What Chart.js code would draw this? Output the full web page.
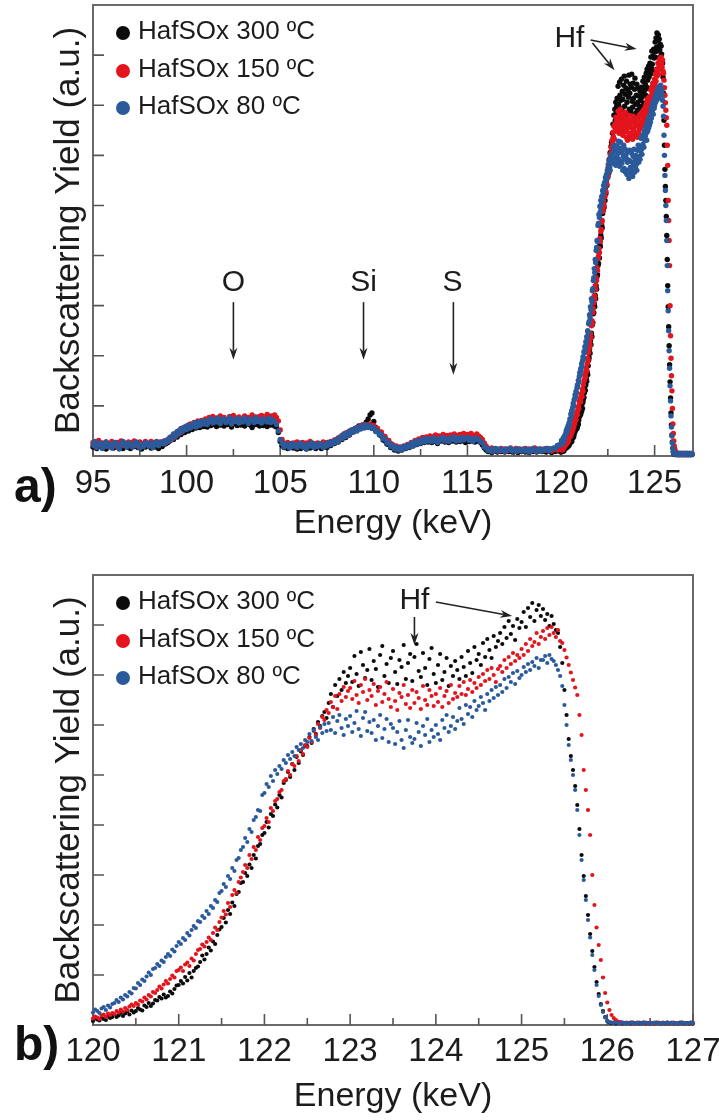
<!DOCTYPE html>
<html><head><meta charset="utf-8">
<script src="https://cdn.jsdelivr.net/npm/chart.js@4.4.1/dist/chart.umd.min.js"></script>
<style>html,body{margin:0;padding:0;background:#fff}#wrap{position:relative;width:719px;height:1120px;background:#fff}canvas{position:absolute;left:0}</style>
</head><body><div id="wrap"><canvas id="ca" width="719" height="560" style="top:0"></canvas><canvas id="cb" width="719" height="560" style="top:560px"></canvas></div>
<script>
// ---------- DATA ----------
const seriesLabels = ['HafSOx 300 ºC', 'HafSOx 150 ºC', 'HafSOx 80 ºC'];

const energyLow = [
95.0,95.1,95.2,95.3,95.4,95.5,95.6,95.7,95.8,95.9,
96.0,96.1,96.2,96.3,96.4,96.5,96.6,96.7,96.8,96.9,
97.0,97.1,97.2,97.3,97.4,97.5,97.6,97.7,97.8,97.9,
98.0,98.1,98.2,98.3,98.4,98.5,98.6,98.7,98.8,98.9,
99.0,99.1,99.2,99.3,99.4,99.5,99.6,99.7,99.8,99.9,
100.0,100.1,100.2,100.3,100.4,100.5,100.6,100.7,100.8,100.9,
101.0,101.1,101.2,101.3,101.4,101.5,101.6,101.7,101.8,101.9,
102.0,102.1,102.2,102.3,102.4,102.5,102.6,102.7,102.8,102.9,
103.0,103.1,103.2,103.3,103.4,103.5,103.6,103.7,103.8,103.9,
104.0,104.1,104.2,104.3,104.4,104.5,104.6,104.7,104.8,104.9,
105.0,105.1,105.2,105.3,105.4,105.5,105.6,105.7,105.8,105.9,
106.0,106.1,106.2,106.3,106.4,106.5,106.6,106.7,106.8,106.9,
107.0,107.1,107.2,107.3,107.4,107.5,107.6,107.7,107.8,107.9,
108.0,108.1,108.2,108.3,108.4,108.5,108.6,108.7,108.8,108.9,
109.0,109.1,109.2,109.3,109.4,109.5,109.6,109.7,109.8,109.9,
110.0,110.1,110.2,110.3,110.4,110.5,110.6,110.7,110.8,110.9,
111.0,111.1,111.2,111.3,111.4,111.5,111.6,111.7,111.8,111.9,
112.0,112.1,112.2,112.3,112.4,112.5,112.6,112.7,112.8,112.9,
113.0,113.1,113.2,113.3,113.4,113.5,113.6,113.7,113.8,113.9,
114.0,114.1,114.2,114.3,114.4,114.5,114.6,114.7,114.8,114.9,
115.0,115.1,115.2,115.3,115.4,115.5,115.6,115.7,115.8,115.9,
116.0,116.1,116.2,116.3,116.4,116.5,116.6,116.7,116.8,116.9,
117.0,117.1,117.2,117.3,117.4,117.5,117.6,117.7,117.8,117.9,
118.0,118.1,118.2,118.3,118.4,118.5,118.6,118.7,118.8,118.9,
119.0,119.1,119.2,119.3,119.4,119.5,119.6,119.7,119.8,119.9];

const lowBlack = [
0.18,0.22,0.15,0.20,0.24,0.17,0.21,0.14,0.19,0.23,
0.20,0.16,0.23,0.18,0.21,0.25,0.15,0.19,0.22,0.17,
0.15,0.21,0.19,0.24,0.17,0.20,0.14,0.22,0.18,0.21,
0.23,0.16,0.20,0.18,0.22,0.15,0.21,0.19,0.23,0.25,
0.27,0.30,0.35,0.33,0.40,0.38,0.46,0.43,0.50,0.47,
0.54,0.50,0.58,0.53,0.60,0.56,0.63,0.57,0.62,0.59,
0.64,0.58,0.66,0.61,0.63,0.68,0.59,0.65,0.62,0.67,
0.60,0.66,0.63,0.69,0.58,0.64,0.67,0.61,0.72,0.62,
0.66,0.60,0.64,0.69,0.62,0.57,0.65,0.63,0.68,0.60,
0.64,0.61,0.67,0.59,0.65,0.62,0.66,0.60,0.58,0.47,
0.29,0.21,0.17,0.20,0.15,0.19,0.22,0.16,0.18,0.14,
0.19,0.15,0.21,0.17,0.14,0.20,0.16,0.22,0.18,0.15,
0.18,0.21,0.15,0.19,0.22,0.17,0.23,0.21,0.26,0.25,
0.30,0.28,0.35,0.33,0.40,0.37,0.45,0.42,0.51,0.48,
0.55,0.52,0.60,0.57,0.62,0.61,0.68,0.74,0.82,0.86,
0.69,0.57,0.51,0.43,0.40,0.32,0.30,0.24,0.23,0.17,
0.17,0.12,0.15,0.10,0.14,0.12,0.16,0.15,0.19,0.17,
0.22,0.20,0.26,0.23,0.29,0.25,0.30,0.27,0.32,0.28,
0.31,0.27,0.33,0.29,0.25,0.32,0.30,0.34,0.28,0.31,
0.27,0.33,0.30,0.35,0.28,0.32,0.29,0.34,0.30,0.27,
0.33,0.29,0.31,0.35,0.28,0.30,0.32,0.27,0.22,0.16,
0.12,0.09,0.11,0.07,0.10,0.12,0.08,0.11,0.09,0.12,
0.08,0.11,0.09,0.13,0.08,0.10,0.12,0.07,0.11,0.09,
0.12,0.08,0.10,0.07,0.11,0.09,0.12,0.08,0.10,0.11,
0.09,0.12,0.08,0.11,0.10,0.07,0.11,0.09,0.12,0.10];

const lowRed = [
0.27,0.20,0.25,0.31,0.22,0.26,0.19,0.28,0.24,0.21,
0.29,0.23,0.20,0.27,0.25,0.30,0.21,0.26,0.23,0.28,
0.22,0.27,0.30,0.24,0.20,0.28,0.25,0.21,0.29,0.26,
0.24,0.29,0.22,0.27,0.25,0.21,0.28,0.26,0.30,0.27,
0.33,0.31,0.39,0.36,0.45,0.42,0.51,0.47,0.56,0.53,
0.60,0.56,0.64,0.59,0.67,0.62,0.70,0.65,0.71,0.68,
0.74,0.69,0.77,0.72,0.79,0.70,0.76,0.73,0.80,0.71,
0.77,0.73,0.70,0.79,0.75,0.81,0.72,0.76,0.78,0.71,
0.75,0.80,0.72,0.77,0.74,0.82,0.73,0.78,0.76,0.79,
0.81,0.74,0.78,0.83,0.76,0.80,0.79,0.82,0.77,0.70,
0.52,0.33,0.26,0.21,0.27,0.23,0.19,0.26,0.24,0.28,
0.21,0.25,0.27,0.20,0.26,0.23,0.29,0.22,0.25,0.20,
0.26,0.22,0.24,0.28,0.21,0.27,0.24,0.29,0.27,0.32,
0.30,0.36,0.34,0.41,0.38,0.46,0.43,0.50,0.47,0.53,
0.51,0.57,0.55,0.61,0.58,0.63,0.59,0.62,0.64,0.60,
0.61,0.55,0.55,0.47,0.48,0.40,0.39,0.32,0.31,0.25,
0.23,0.19,0.20,0.15,0.18,0.16,0.20,0.19,0.23,0.22,
0.27,0.25,0.31,0.28,0.34,0.31,0.37,0.33,0.38,0.36,
0.40,0.35,0.39,0.42,0.36,0.40,0.37,0.43,0.38,0.41,
0.36,0.42,0.39,0.44,0.37,0.41,0.43,0.38,0.45,0.40,
0.43,0.39,0.45,0.41,0.38,0.44,0.40,0.37,0.33,0.26,
0.20,0.15,0.12,0.16,0.11,0.14,0.13,0.10,0.15,0.12,
0.14,0.10,0.13,0.16,0.11,0.13,0.15,0.10,0.14,0.12,
0.11,0.15,0.12,0.14,0.10,0.13,0.16,0.12,0.11,0.14,
0.13,0.11,0.15,0.12,0.14,0.10,0.13,0.15,0.12,0.14];

const lowBlue = [
0.22,0.29,0.17,0.24,0.26,0.15,0.21,0.28,0.19,0.23,
0.16,0.25,0.27,0.20,0.14,0.23,0.29,0.22,0.18,0.26,
0.24,0.18,0.21,0.28,0.25,0.16,0.22,0.19,0.27,0.23,
0.20,0.26,0.17,0.23,0.29,0.21,0.25,0.28,0.24,0.31,
0.29,0.37,0.33,0.44,0.39,0.49,0.45,0.55,0.50,0.58,
0.53,0.62,0.56,0.60,0.66,0.58,0.68,0.61,0.69,0.64,
0.71,0.63,0.69,0.75,0.66,0.72,0.68,0.76,0.65,0.71,
0.74,0.67,0.70,0.77,0.64,0.72,0.69,0.75,0.66,0.73,
0.68,0.76,0.70,0.65,0.74,0.71,0.67,0.77,0.69,0.72,
0.66,0.74,0.70,0.68,0.76,0.67,0.72,0.69,0.63,0.50,
0.33,0.25,0.18,0.24,0.21,0.16,0.25,0.20,0.23,0.17,
0.22,0.26,0.18,0.21,0.15,0.24,0.20,0.26,0.17,0.22,
0.19,0.25,0.21,0.17,0.24,0.20,0.27,0.23,0.29,0.26,
0.33,0.29,0.38,0.35,0.44,0.39,0.47,0.43,0.52,0.48,
0.55,0.50,0.58,0.54,0.61,0.56,0.62,0.57,0.60,0.55,
0.57,0.49,0.50,0.42,0.43,0.34,0.35,0.26,0.27,0.19,
0.21,0.14,0.18,0.12,0.17,0.13,0.19,0.16,0.22,0.18,
0.25,0.21,0.29,0.24,0.31,0.26,0.33,0.28,0.35,0.30,
0.34,0.29,0.36,0.31,0.27,0.35,0.32,0.37,0.30,0.34,
0.29,0.36,0.33,0.38,0.30,0.35,0.31,0.37,0.32,0.35,
0.37,0.31,0.35,0.29,0.36,0.33,0.34,0.28,0.26,0.18,
0.16,0.11,0.14,0.09,0.13,0.15,0.10,0.14,0.11,0.13,
0.09,0.14,0.12,0.15,0.10,0.13,0.09,0.14,0.12,0.10,
0.14,0.10,0.13,0.08,0.12,0.15,0.11,0.09,0.14,0.12,
0.10,0.14,0.12,0.15,0.11,0.14,0.16,0.15,0.21,0.22];

const energyHf = [
120,120.025,120.05,120.075,120.1,120.125,120.15,120.175,120.2,120.225,
120.25,120.275,120.3,120.325,120.35,120.375,120.4,120.425,120.45,120.475,
120.5,120.525,120.55,120.575,120.6,120.625,120.65,120.675,120.7,120.725,
120.75,120.775,120.8,120.825,120.85,120.875,120.9,120.925,120.95,120.975,
121,121.025,121.05,121.075,121.1,121.125,121.15,121.175,121.2,121.225,
121.25,121.275,121.3,121.325,121.35,121.375,121.4,121.425,121.45,121.475,
121.5,121.525,121.55,121.575,121.6,121.625,121.65,121.675,121.7,121.725,
121.75,121.775,121.8,121.825,121.85,121.875,121.9,121.925,121.95,121.975,
122,122.025,122.05,122.075,122.1,122.125,122.15,122.175,122.2,122.225,
122.25,122.275,122.3,122.325,122.35,122.375,122.4,122.425,122.45,122.475,
122.5,122.525,122.55,122.575,122.6,122.625,122.65,122.675,122.7,122.725,
122.75,122.775,122.8,122.825,122.85,122.875,122.9,122.925,122.95,122.975,
123,123.025,123.05,123.075,123.1,123.125,123.15,123.175,123.2,123.225,
123.25,123.275,123.3,123.325,123.35,123.375,123.4,123.425,123.45,123.475,
123.5,123.525,123.55,123.575,123.6,123.625,123.65,123.675,123.7,123.725,
123.75,123.775,123.8,123.825,123.85,123.875,123.9,123.925,123.95,123.975,
124,124.025,124.05,124.075,124.1,124.125,124.15,124.175,124.2,124.225,
124.25,124.275,124.3,124.325,124.35,124.375,124.4,124.425,124.45,124.475,
124.5,124.525,124.55,124.575,124.6,124.625,124.65,124.675,124.7,124.725,
124.75,124.775,124.8,124.825,124.85,124.875,124.9,124.925,124.95,124.975,
125,125.025,125.05,125.075,125.1,125.125,125.15,125.175,125.2,125.225,
125.25,125.275,125.3,125.325,125.35,125.375,125.4,125.425,125.45,125.475,
125.5,125.525,125.55,125.575,125.6,125.625,125.65,125.675,125.7,125.725,
125.75,125.775,125.8,125.825,125.85,125.875,125.9,125.925,125.95,125.975,
126,126.025,126.05,126.075,126.1,126.125,126.15,126.175,126.2,126.225,
126.25,126.275,126.3,126.325,126.35,126.375,126.4,126.425,126.45,126.475,
126.5,126.525,126.55,126.575,126.6,126.625,126.65,126.675,126.7,126.725,
126.75,126.775,126.8,126.825,126.85,126.875,126.9,126.925,126.95,126.975,
127];

const hfBlack = [
0.08,0.13,0.11,0.09,0.15,0.12,0.10,0.17,0.14,0.16,
0.21,0.16,0.19,0.24,0.18,0.23,0.27,0.21,0.29,0.25,
0.28,0.34,0.31,0.29,0.39,0.36,0.44,0.38,0.43,0.50,
0.49,0.56,0.53,0.61,0.55,0.58,0.67,0.63,0.72,0.79,
0.80,0.88,0.83,0.96,0.89,1.04,0.95,1.08,1.14,1.17,
1.26,1.39,1.31,1.42,1.55,1.49,1.67,1.62,1.80,1.91,
1.96,2.14,2.05,2.30,2.22,2.45,2.38,2.62,2.66,2.84,
2.86,3.04,2.98,3.21,3.14,3.40,3.33,3.58,3.62,3.80,
3.84,4.06,3.95,4.22,4.18,4.41,4.35,4.60,4.55,4.84,
4.90,5.06,4.96,5.22,5.10,5.36,5.24,5.47,5.40,5.58,
5.58,5.76,5.64,5.92,5.82,6.06,5.98,6.18,6.26,6.14,
6.44,6.62,6.36,6.80,6.58,6.92,6.70,7.06,6.84,6.98,
7.14,6.86,7.38,7.02,6.78,7.46,7.20,6.94,7.10,7.52,
6.90,7.28,7.12,6.76,7.40,7.58,6.98,7.22,6.84,7.34,
7.48,7.06,6.82,7.30,7.16,7.60,6.92,7.24,7.42,6.88,
7.36,7.62,7.08,6.96,7.44,7.14,6.80,7.32,7.54,7.02,
6.84,7.20,7.42,6.90,7.06,7.34,6.78,7.18,6.98,7.28,
7.10,6.92,7.36,7.16,6.98,7.48,7.24,7.04,7.56,7.30,
7.42,7.20,7.64,7.36,7.72,7.50,7.34,7.78,7.56,7.68,
7.84,7.62,7.96,7.74,8.08,7.82,7.98,7.70,8.12,7.94,
8.06,8.26,7.96,8.34,8.16,8.44,8.08,8.30,8.40,8.18,
8.32,8.10,8.22,7.98,8.18,8.02,7.90,7.84,7.56,7.24,
6.70,6.20,5.72,5.38,5.10,4.78,4.40,3.92,3.40,2.98,
2.58,2.20,1.82,1.48,1.16,0.86,0.62,0.42,0.28,0.16,
0.08,0.05,0.04,0.05,0.03,0.04,0.05,0.03,0.04,0.03,
0.04,0.03,0.05,0.03,0.04,0.03,0.04,0.05,0.03,0.04,
0.03,0.04,0.03,0.05,0.04,0.03,0.04,0.03,0.05,0.03,
0.04,0.03,0.04,0.03,0.05,0.04,0.03,0.04,0.03,0.04,
0.03];

const hfRed = [
0.13,0.17,0.15,0.12,0.19,0.21,0.16,0.23,0.20,0.24,
0.22,0.28,0.25,0.31,0.27,0.34,0.30,0.37,0.41,0.38,
0.44,0.41,0.49,0.47,0.55,0.51,0.60,0.57,0.66,0.64,
0.70,0.77,0.73,0.81,0.88,0.83,0.92,0.99,0.95,1.08,
1.10,1.15,1.08,1.21,1.25,1.18,1.33,1.29,1.42,1.50,
1.52,1.61,1.57,1.66,1.75,1.70,1.84,1.95,1.90,2.06,
2.15,2.28,2.21,2.44,2.36,2.60,2.70,2.64,2.86,2.95,
3.06,3.20,3.14,3.40,3.32,3.56,3.50,3.76,3.70,3.94,
3.98,4.14,4.06,4.34,4.28,4.48,4.52,4.66,4.70,4.88,
4.92,5.08,5.00,5.22,5.18,5.38,5.28,5.50,5.42,5.60,
5.56,5.74,5.66,5.88,5.80,6.02,5.94,6.16,6.10,6.30,
6.24,6.46,6.36,6.58,6.32,6.62,6.48,6.76,6.56,6.68,
6.74,6.52,6.88,6.60,6.44,6.80,6.66,6.92,6.50,6.70,
6.58,6.82,6.40,6.68,6.76,6.46,6.62,6.86,6.52,6.36,
6.72,6.48,6.30,6.64,6.56,6.80,6.42,6.60,6.34,6.70,
6.44,6.66,6.54,6.32,6.78,6.50,6.40,6.70,6.58,6.38,
6.62,6.46,6.74,6.36,6.58,6.68,6.44,6.80,6.52,6.64,
6.56,6.78,6.62,6.86,6.60,6.72,6.90,6.66,6.84,6.74,
6.96,6.80,7.02,6.88,7.10,6.92,7.14,7.00,6.86,7.12,
7.18,7.06,7.30,7.14,7.36,7.22,7.44,7.28,7.40,7.34,
7.52,7.40,7.62,7.48,7.72,7.58,7.66,7.84,7.62,7.76,
7.88,7.72,7.94,7.80,7.96,7.84,7.76,7.90,7.68,7.64,
7.50,7.35,7.20,7.05,6.90,6.75,6.60,6.20,5.80,5.10,
4.70,4.30,3.80,3.00,2.40,1.95,1.60,1.30,0.95,0.64,
0.45,0.30,0.20,0.14,0.10,0.07,0.06,0.05,0.04,0.05,
0.04,0.05,0.03,0.04,0.05,0.04,0.03,0.05,0.04,0.03,
0.05,0.04,0.03,0.04,0.05,0.03,0.04,0.04,0.05,0.03,
0.04,0.05,0.03,0.04,0.03,0.05,0.04,0.03,0.04,0.05,
0.04];

const hfBlue = [
0.25,0.31,0.28,0.24,0.33,0.36,0.30,0.39,0.35,0.42,
0.44,0.50,0.46,0.55,0.51,0.60,0.57,0.66,0.63,0.74,
0.73,0.84,0.80,0.91,0.88,0.97,1.05,1.00,1.12,1.14,
1.22,1.18,1.29,1.26,1.36,1.42,1.38,1.51,1.47,1.58,
1.66,1.62,1.74,1.70,1.84,1.79,1.90,1.98,1.94,2.08,
2.06,2.18,2.14,2.28,2.22,2.38,2.34,2.50,2.46,2.64,
2.68,2.82,2.76,2.98,2.92,3.14,3.08,3.30,3.34,3.50,
3.56,3.74,3.66,3.92,3.86,4.10,4.16,4.30,4.28,4.60,
4.64,4.82,4.76,4.98,4.88,5.10,5.02,5.18,5.12,5.30,
5.24,5.40,5.32,5.46,5.38,5.56,5.50,5.62,5.54,5.70,
5.66,5.82,5.68,5.90,5.76,5.70,5.96,5.84,6.02,5.88,
6.04,5.90,6.16,5.84,6.08,6.20,5.94,5.80,6.12,5.98,
6.18,5.86,6.04,6.28,5.92,5.78,6.14,6.26,5.88,6.06,
5.84,6.10,5.70,5.98,6.20,5.74,5.92,6.12,5.66,6.02,
5.94,5.62,5.86,6.08,5.70,5.54,5.90,6.10,5.76,5.64,
5.72,6.04,5.86,5.58,5.98,5.80,6.12,5.66,5.90,5.76,
6.00,5.82,5.70,6.10,5.94,6.20,5.86,5.98,6.16,5.92,
6.08,6.34,6.12,6.02,6.40,6.22,6.36,6.16,6.48,6.30,
6.38,6.56,6.44,6.30,6.62,6.48,6.70,6.54,6.76,6.60,
6.80,6.66,6.92,6.74,6.96,6.86,7.04,6.82,7.08,6.94,
7.00,7.16,7.06,7.22,7.10,7.26,7.18,7.34,7.14,7.30,
7.30,7.38,7.24,7.40,7.32,7.28,7.20,7.10,6.98,6.78,
6.40,6.00,5.60,5.30,5.00,4.70,4.30,3.80,3.30,2.90,
2.50,2.10,1.75,1.40,1.10,0.80,0.58,0.40,0.26,0.15,
0.08,0.06,0.05,0.04,0.05,0.04,0.03,0.05,0.04,0.03,
0.04,0.05,0.04,0.03,0.04,0.05,0.03,0.04,0.05,0.04,
0.03,0.04,0.05,0.04,0.03,0.04,0.05,0.03,0.04,0.04,
0.05,0.03,0.04,0.04,0.03,0.05,0.04,0.03,0.04,0.05,
0.04];

// ---------- STYLE ----------
const seriesColors = ['#0b0b0b', '#e3141c', '#2b5a9b'];
const drawOrder = [3, 2, 1];
const FONT = '"Liberation Sans", Arial, Helvetica, sans-serif';
const TXT = '#1c1c1c';
Chart.defaults.font.family = FONT;
Chart.defaults.color = TXT;

function pts(e, v) { return e.map((x, i) => ({x: x, y: v[i]})); }

function arrow(ctx, x1, y1, x2, y2) {
  const a = Math.atan2(y2 - y1, x2 - x1), L = 12, W = 4;
  const c = Math.cos(a), s = Math.sin(a);
  ctx.beginPath(); ctx.moveTo(x1, y1); ctx.lineTo(x2 - c * L * 0.7, y2 - s * L * 0.7); ctx.stroke();
  ctx.beginPath(); ctx.moveTo(x2, y2);
  ctx.lineTo(x2 - L * c + W * s, y2 - L * s - W * c);
  ctx.lineTo(x2 - L * 0.7 * c, y2 - L * 0.7 * s);
  ctx.lineTo(x2 - L * c - W * s, y2 - L * s + W * c);
  ctx.closePath(); ctx.fill();
}

const decor = {
  id: 'decor',
  beforeDatasetsDraw(chart, args, o) {
    const {ctx, chartArea: a, scales: {x, y}} = chart;
    ctx.save();
    ctx.strokeStyle = '#6a6a6a'; ctx.lineWidth = 2;
    ctx.strokeRect(a.left, a.top, a.right - a.left, a.bottom - a.top);
    ctx.strokeStyle = '#555'; ctx.lineWidth = 1.6;
    ctx.beginPath();
    const xv = x.ticks.map(t => t.value);
    xv.forEach(v => {
      const px = x.getPixelForValue(v);
      ctx.moveTo(px, a.bottom); ctx.lineTo(px, a.bottom - 11);
      const m = v + o.minorStep;
      if (m < x.max) { const pm = x.getPixelForValue(m); ctx.moveTo(pm, a.bottom); ctx.lineTo(pm, a.bottom - 7); }
    });
    y.ticks.forEach(t => {
      if (t.value <= y.min || t.value >= y.max) return;
      const py = y.getPixelForValue(t.value);
      ctx.moveTo(a.left, py); ctx.lineTo(a.left + 11, py);
    });
    ctx.stroke();
    ctx.restore();
  },
  afterDraw(chart, args, o) {
    const {ctx, scales: {x, y}} = chart;
    ctx.save();
    ctx.textBaseline = 'middle'; ctx.textAlign = 'left';
    ctx.font = '26px ' + FONT;
    chart.data.datasets.forEach((d, i) => {
      const ry = o.legendRows[i];
      ctx.fillStyle = d.backgroundColor;
      ctx.beginPath(); ctx.arc(123, ry + 1, 7, 0, Math.PI * 2); ctx.fill();
      ctx.fillStyle = TXT;
      ctx.fillText(d.label, 138, ry);
    });
    ctx.font = '30px ' + FONT; ctx.textAlign = 'center'; ctx.fillStyle = TXT;
    o.labels.forEach(l => ctx.fillText(l.text, x.getPixelForValue(l.x), y.getPixelForValue(l.y)));
    ctx.strokeStyle = '#222'; ctx.fillStyle = '#222'; ctx.lineWidth = 1.6;
    o.arrows.forEach(r => arrow(ctx, x.getPixelForValue(r[0]), y.getPixelForValue(r[1]), x.getPixelForValue(r[2]), y.getPixelForValue(r[3])));
    ctx.font = 'bold 48px ' + FONT; ctx.textAlign = 'left'; ctx.textBaseline = 'alphabetic'; ctx.fillStyle = '#111';
    ctx.fillText(o.panel, 14, o.panelY);
    ctx.restore();
  }
};

function makeChart(id, p) {
  const datasets = seriesLabels.map((lab, i) => ({
    label: lab,
    data: p.data[i],
    backgroundColor: seriesColors[i],
    borderColor: seriesColors[i],
    pointRadius: p.radius,
    pointBorderWidth: 0,
    pointHoverRadius: p.radius,
    showLine: false,
    order: drawOrder[i],
    clip: 6
  }));
  return new Chart(document.getElementById(id), {
    type: 'scatter',
    data: {datasets},
    plugins: [decor],
    options: {
      responsive: false, animation: false, devicePixelRatio: 1, events: [],
      layout: {padding: {top: p.padTop, right: 26, bottom: 0, left: 0}},
      plugins: {legend: {display: false}, tooltip: {enabled: false}, decor: p.decor},
      scales: {
        x: {
          type: 'linear', position: 'bottom', min: p.xMin, max: p.xMax,
          grid: {display: false, drawTicks: false}, border: {display: false},
          ticks: {stepSize: p.xStep, autoSkip: false, maxRotation: 0, minRotation: 0, includeBounds: false,
                  padding: p.tickPad, font: {size: 33}, color: TXT},
          title: {display: true, text: 'Energy (keV)', font: {size: 34}, color: TXT, padding: {top: 0, bottom: p.titlePad}},
          afterFit: s => { s.height = p.xAxisH; s.paddingLeft = 0; s.paddingRight = 0; }
        },
        y: {
          type: 'linear', min: 0, max: 9,
          grid: {display: false, drawTicks: false}, border: {display: false},
          ticks: {stepSize: 1, display: false},
          title: {display: true, text: 'Backscattering Yield (a.u.)', font: {size: 35}, color: TXT, padding: {top: 48, bottom: 0}},
          afterFit: s => { s.width = 93; s.paddingTop = 0; s.paddingBottom = 0; }
        }
      }
    }
  });
}

const energyAll = energyLow.concat(energyHf);
makeChart('ca', {
  data: [pts(energyAll, lowBlack.concat(hfBlack)), pts(energyAll, lowRed.concat(hfRed)), pts(energyAll, lowBlue.concat(hfBlue))],
  radius: 2.7, padTop: 5, xMin: 95, xMax: 127.05, xStep: 5, tickPad: 8, titlePad: 16, xAxisH: 104,
  decor: {
    minorStep: 2.5, legendRows: [32, 70, 107], panel: 'a)', panelY: 502,
    labels: [{text: 'O', x: 102.5, y: 3.45}, {text: 'Si', x: 109.45, y: 3.45}, {text: 'S', x: 114.2, y: 3.45}, {text: 'Hf', x: 120.45, y: 8.32}],
    arrows: [[102.5, 3.07, 102.5, 1.92], [109.45, 3.07, 109.45, 1.92], [114.25, 3.07, 114.25, 1.62],
             [121.58, 8.30, 124.04, 8.12], [121.68, 8.24, 122.86, 7.70]]
  }
});
makeChart('cb', {
  data: [pts(energyHf, hfBlack), pts(energyHf, hfRed), pts(energyHf, hfBlue)],
  radius: 2.1, padTop: 15, xMin: 120, xMax: 127, xStep: 1, tickPad: 7, titlePad: 3, xAxisH: 95,
  decor: {
    minorStep: 0.5, legendRows: [42, 80, 117], panel: 'b)', panelY: 500,
    labels: [{text: 'Hf', x: 123.75, y: 8.48}],
    arrows: [[124.0, 8.46, 124.89, 8.18], [123.75, 8.16, 123.75, 7.6]]
  }
});
</script></body></html>
